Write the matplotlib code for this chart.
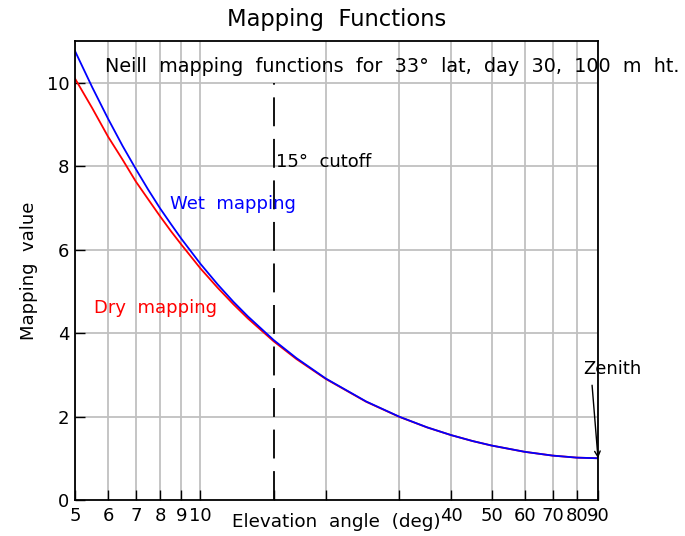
#!/usr/bin/env python
# Neill mapping functions, dry and wet, vs elevation angle (log x axis)

import numpy as np
import matplotlib
matplotlib.use("Agg")
import matplotlib.pyplot as plt
from matplotlib.ticker import FixedLocator, NullLocator

elev = [5, 5.5, 6, 6.5, 7, 7.5, 8, 8.5, 9, 10, 11, 12, 13, 15, 17, 20, 25,
        30, 35, 40, 45, 50, 60, 70, 80, 90]
dry_map = [10.10, 9.39, 8.71, 8.16, 7.63, 7.20, 6.80, 6.44, 6.12, 5.55,
           5.085, 4.69, 4.35, 3.80, 3.377, 2.90, 2.353, 1.993, 1.739, 1.553,
           1.412, 1.304, 1.154, 1.064, 1.015, 1.000]
wet_map = [10.76, 9.89, 9.14, 8.49, 7.93, 7.43, 6.99, 6.61, 6.26, 5.66,
           5.166, 4.75, 4.40, 3.83, 3.40, 2.91, 2.360, 1.997, 1.741, 1.554,
           1.413, 1.305, 1.155, 1.064, 1.015, 1.000]

xticks = [5, 6, 7, 8, 9, 10, 15, 20, 30, 40, 50, 60, 70, 80, 90]
xgrid = [5, 6, 7, 8, 9, 10, 20, 30, 40, 50, 60, 70, 80, 90]
xticklabels = ["5", "6", "7", "8", "9", "10", "", "", "", "40", "50", "60", "70", "80", "90"]
yticks = [0, 2, 4, 6, 8, 10]
cutoff = 15

plt.rcParams["font.family"] = ["DejaVu Sans"]

fig = plt.figure(figsize=(6.85, 5.36), dpi=100)
ax = fig.add_axes([0.1095, 0.0672, 0.7635, 0.8563])

ax.set_xscale("log")
ax.set_xlim(5, 90)
ax.set_ylim(0, 11)

for g in xgrid:
    ax.axvline(g, color="#c0c0c0", lw=1.3, zorder=0)
for g in yticks[1:]:
    ax.axhline(g, color="#c0c0c0", lw=1.3, zorder=0)

ax.plot(elev, dry_map, color="red", lw=1.3)
ax.plot(elev, wet_map, color="blue", lw=1.3)

ax.plot([cutoff, cutoff], [0, 10], color="black", lw=1.3,
        dashes=(16, 7))

ax.xaxis.set_major_locator(FixedLocator(xticks))
ax.xaxis.set_minor_locator(NullLocator())
ax.set_xticklabels(xticklabels)
ax.set_yticks(yticks)
ax.tick_params(direction="in", length=7, width=1, labelsize=13, pad=4,
               top=False, right=False)
ax.tick_params(axis="x", pad=5)
for s in ax.spines.values():
    s.set_linewidth(1.3)

ax.set_title("Mapping  Functions", fontsize=16.3, pad=11)
ax.set_ylabel("Mapping  value", fontsize=13, labelpad=6)
ax.set_xlabel("Elevation  angle  (deg)", fontsize=13.2)
ax.xaxis.set_label_coords(0.5, -0.028)
ax.xaxis.label.set_va("top")

ax.text(5.9, 10.4, "Neill  mapping  functions  for  33\u00b0  lat,  day  30,  100  m  ht.",
        fontsize=13.8, va="center", ha="left", clip_on=False)
ax.text(15.2, 8.1, "15\u00b0  cutoff", fontsize=13, va="center", ha="left")
ax.text(8.45, 7.1, "Wet  mapping", fontsize=13, color="blue", va="center")
ax.text(5.55, 4.6, "Dry  mapping", fontsize=13, color="red", va="center")
ax.text(97.3, 3.13, "Zenith", fontsize=13, ha="center", va="center",
        clip_on=False)
ax.annotate("", xy=(90, 1.0), xytext=(87.1, 2.75),
            arrowprops=dict(arrowstyle="->", color="black", lw=1.0,
                            shrinkA=0, shrinkB=0))

fig.savefig("out.png", dpi=100)
